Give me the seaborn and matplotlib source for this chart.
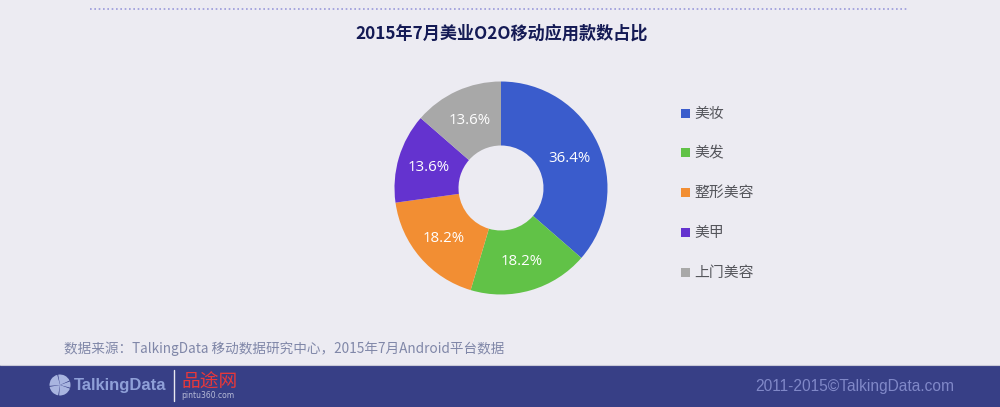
import matplotlib
matplotlib.use("Agg")
import matplotlib.pyplot as plt
from matplotlib.patches import Rectangle, Wedge
import numpy as np
import seaborn as sns

categories = ["美妆", "美发", "整形美容", "美甲", "上门美容"]
shares = [36.4, 18.2, 18.2, 13.6, 13.6]
colors = ["#3a5ccc", "#61c247", "#f28e33", "#6433cf", "#a8a8a8"]
title = "2015年7月美业O2O移动应用款数占比"
source = "数据来源：TalkingData 移动数据研究中心，2015年7月Android平台数据"
copyright_text = "2011-2015©TalkingData.com"

W, H = 1000, 407
BG = "#ecebf2"
BAR = "#373f86"

sns.set_theme(style="white")
plt.rcParams["font.family"] = ["Noto Sans CJK SC", "DejaVu Sans"]
sns.set_palette(colors)

fig = plt.figure(figsize=(W / 100, H / 100), dpi=100, facecolor=BG)

# page layer in pixel coords
bg = fig.add_axes([0, 0, 1, 1])
bg.set_xlim(0, W)
bg.set_ylim(H, 0)
bg.axis("off")

bg.plot([90, 908], [8.5, 8.5], color="#9a9ada", lw=1.2, ls=(0, (1, 1.6)))
bg.text(501.5, 34, title, ha="center", va="center", fontsize=12.3, fontweight="bold", color="#141a55")
bg.text(64, 349, source, ha="left", va="center", fontsize=9.8, color="#8087a8")

# footer
bg.add_patch(Rectangle((0, 365), W, 42, color=BAR, lw=0))
bg.plot([0, W], [365, 365], color="#c9c9d8", lw=0.8)
bg.text(855, 386, copyright_text, ha="center", va="center", fontsize=11.2,
        color="#8088c8", family="Liberation Sans")

# logo
for start, end in [(20, 95), (100, 170), (175, 255), (260, 335), (340, 375)]:
    bg.add_patch(Wedge((60, 385), 10.5, start, end, width=10.5, color="#a9b5e0", lw=0))
bg.text(74, 385.5, "TalkingData", ha="left", va="center", fontsize=12, fontweight="bold",
        color="#8fa0d8", family="Liberation Sans")
bg.plot([173.5, 173.5], [370, 401], color="#e8e8f0", lw=1)
bg.text(181, 382, "品途网", ha="left", va="center", fontsize=13.5, color="#e8383a",
        family="Noto Sans CJK SC")
bg.text(181, 396, "pintu360.com", ha="left", va="center", fontsize=5.5, color="#b8bcd8",
        family="DejaVu Sans")

# donut
ax = fig.add_axes([394.5 / W, 1 - 294.5 / H, 213 / W, 213 / H])
wedges, _ = ax.pie(shares, colors=sns.color_palette(), startangle=90, counterclock=False,
                   radius=1, wedgeprops={"width": 1 - 42.5 / 106.5, "linewidth": 0})
ax.set_xlim(-1, 1)
ax.set_ylim(-1, 1)

running = 0
total = sum(shares)
for v in shares:
    ang = np.deg2rad(90 - (running + v / 2) / total * 360)
    ax.text(0.705 * np.cos(ang), 0.705 * np.sin(ang) - 0.012, f"{v}%", ha="center", va="center",
            fontsize=10.8, color="white", family="Open Sans")
    running += v

# legend, one row per category
for i, (name, c) in enumerate(zip(categories, colors)):
    y = 113 + i * 39.8
    bg.add_patch(Rectangle((681, y - 4.5), 9, 9, color=c, lw=0))
    bg.text(694, y + 0.5, name, ha="left", va="center", fontsize=10.7, color="#55565c")

fig.savefig("out.png", dpi=100, facecolor=BG)
